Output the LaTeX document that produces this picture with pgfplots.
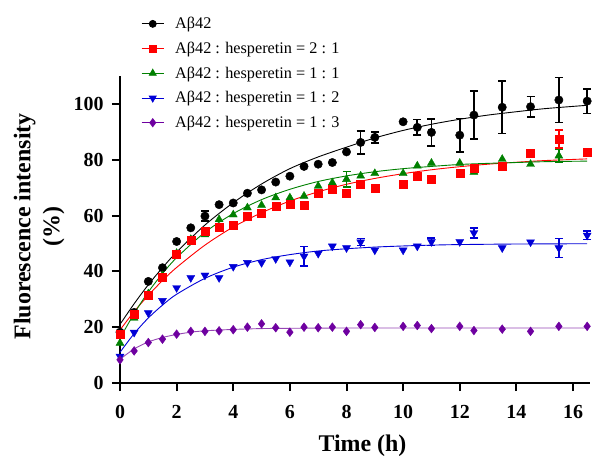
\documentclass[border=0pt]{standalone}
\usepackage{fontspec}
\setmainfont{Liberation Serif}
\usepackage{pgfplots}
\pgfplotsset{compat=1.18}
\definecolor{cA}{RGB}{0,0,0}
\definecolor{cB}{RGB}{255,0,0}
\definecolor{cC}{RGB}{0,128,0}
\definecolor{cD}{RGB}{0,0,215}
\definecolor{cE}{RGB}{110,0,160}
\definecolor{lE}{RGB}{150,70,180}
\begin{document}
\begin{tikzpicture}
\begin{axis}[
  scale only axis, width=470bp, height=307bp,
  xmin=0, xmax=16.6, ymin=0, ymax=110,
  axis lines*=left,
  axis line style={line width=2.2bp},
  xtick={0,2,...,16}, ytick={0,20,...,100},
  xticklabels={0,2,4,6,8,10,12,14,16},
  yticklabels={0,20,40,60,80,100},
  tick align=outside, major tick length=8bp,
  tick style={line width=2bp, black},
  /pgf/number format/assume math mode=true,
  ticklabel style={font=\bfseries\fontsize{20}{23}\selectfont},
  xticklabel style={yshift=-11bp},
  yticklabel style={xshift=-5bp},
  xlabel={Time (h)},
  xlabel style={font=\bfseries\fontsize{24}{29}\selectfont, at={(axis description cs:0.516,-0.2215)}, anchor=base},
  ylabel={Fluorescence intensity\\(\%)},
  ylabel style={font=\bfseries\fontsize{24}{29}\selectfont, align=center, at={(axis description cs:-0.172,0.51)}, anchor=center},
  clip=false,
  legend style={draw=none, fill=none, font=\fontsize{16.3}{19}\selectfont, at={(axis description cs:0.045,1.198)}, anchor=north west, row sep=7.8bp, inner sep=0pt,
    /tikz/every odd column/.style={column sep=9bp}},
  legend cell align=left,
  legend image code/.code={\draw[mark repeat=2,mark phase=2,#1] plot coordinates {(0bp,0bp) (11bp,0bp) (22bp,0bp)};},
]
% legend
\addlegendimage{cA, line width=0.8bp, mark=*, mark size=3.5bp}
\addlegendentry{Aβ42}
\addlegendimage{cB, line width=0.8bp, mark=square*, mark size=3.5bp}
\addlegendentry{Aβ42 : hesperetin = 2 : 1}
\addlegendimage{cC, line width=0.8bp, mark=triangle*, mark size=4bp}
\addlegendentry{Aβ42 : hesperetin = 1 : 1}
\addlegendimage{cD, line width=0.8bp, mark=triangle*, mark size=4bp, mark options={rotate=180}}
\addlegendentry{Aβ42 : hesperetin = 1 : 2}
\addlegendimage{cE, line width=0.8bp, mark=diamond*, mark size=4bp}
\addlegendentry{Aβ42 : hesperetin = 1 : 3}

% fitted curves
\addplot[forget plot, cA, line width=0.9bp, smooth] coordinates {(0,21) (0.5,28.4) (1,35.2) (1.5,41.3) (2,46.9) (3,56.6) (4,64.6) (5,71.3) (6,76.8) (7,81.0) (8,84.5) (9,87.8) (10,90.5) (11,92.7) (12,94.5) (13,96.0) (14,97.2) (15,98.3) (16.5,99.5)};
\addplot[forget plot, cB, line width=0.9bp, smooth] coordinates {(0,19) (0.5,25.6) (1,31.4) (1.5,36.7) (2,41.4) (3,49.4) (4,55.9) (5,61.0) (6,65.2) (7,68.5) (8,71.2) (9,73.3) (10,75.0) (11,76.4) (12,77.5) (13,78.4) (14,79.1) (15,79.7) (16.5,80.3)};
\addplot[forget plot, cC, line width=0.9bp, smooth] coordinates {(0,16) (0.5,24.9) (1,32.6) (1.5,39.2) (2,44.9) (3,54.0) (4,60.7) (5,65.7) (6,69.4) (7,72.2) (8,74.2) (9,75.7) (10,76.8) (11,77.6) (12,78.3) (13,78.7) (14,79.0) (15,79.3) (16.5,79.5)};
\addplot[forget plot, cD, line width=0.9bp, smooth] coordinates {(0,11) (0.5,17.7) (1,23.3) (1.5,27.9) (2,31.8) (3,37.5) (4,41.5) (5,44.2) (6,46.0) (7,47.3) (8,48.1) (9,48.7) (10,49.1) (11,49.4) (12,49.6) (14,49.8) (16.5,49.9)};
\addplot[forget plot, lE, line width=0.9bp, smooth] coordinates {(0,8.5) (0.5,12.2) (1,14.7) (1.5,16.3) (2,17.4) (2.5,18.2) (3,18.7) (4,19.2) (5,19.5) (6,19.6) (8,19.7) (12,19.7) (16.5,19.7)};

% error bars
\addplot[forget plot, only marks, mark=none, error bars/.cd, y dir=both, y explicit,
  error bar style={line width=1.6bp, cA}, error mark options={rotate=90, mark size=4bp, line width=1.6bp, cA}]
  coordinates {(3,59.8) +- (0,1.8) (8.5,86.2) +- (0,4.2) (9,88.0) +- (0,2.0) (10.5,91.6) +- (0,2.8) (11,89.8) +- (0,4.9) (12,88.8) +- (0,6.0) (12.5,96.0) +- (0,8.6) (13.5,98.8) +- (0,9.4) (14.5,99.0) +- (0,3.6) (15.5,101.4) +- (0,8.0) (16.5,101.0) +- (0,4.4)};
\addplot[forget plot, only marks, mark=none, error bars/.cd, y dir=both, y explicit,
  error bar style={line width=1.6bp, cB}, error mark options={rotate=90, mark size=4bp, line width=1.6bp, cB}]
  coordinates {(15.5,87.4) +- (0,3.3) (16.5,82.8) +- (0,1.2)};
\addplot[forget plot, only marks, mark=none, error bars/.cd, y dir=both, y explicit,
  error bar style={line width=1.6bp, cC}, error mark options={rotate=90, mark size=4bp, line width=1.6bp, cC}]
  coordinates {(8,73.0) +- (0,2.8) (15.5,81.4) +- (0,2.2)};
\addplot[forget plot, only marks, mark=none, error bars/.cd, y dir=both, y explicit,
  error bar style={line width=1.6bp, cD}, error mark options={rotate=90, mark size=4bp, line width=1.6bp, cD}]
  coordinates {(6.5,45.4) +- (0,3.5) (8.5,50.5) +- (0,1.3) (11,50.6) +- (0,1.3) (12.5,53.8) +- (0,1.8) (15.5,48.4) +- (0,3.4) (16.5,52.9) +- (0,1.5)};

% data points
\addplot[forget plot, only marks, mark=*, mark size=4.2bp, cA] coordinates {
(0,18.2) (0.5,25.3) (1,36.4) (1.5,41.3) (2,50.7) (2.5,55.6) (3,59.8) (3.5,63.9) (4,64.5) (4.5,68.0) (5,69.2) (5.5,72.0) (6,74.1) (6.5,77.6) (7,78.4) (7.5,79.0) (8,82.8) (8.5,86.2) (9,88.0) (10,93.6) (10.5,91.6) (11,89.8) (12,88.8) (12.5,96.0) (13.5,98.8) (14.5,99.0) (15.5,101.4) (16.5,101.0)};
\addplot[forget plot, only marks, mark=triangle*, mark size=4.6bp, cC] coordinates {
(0,14.3) (0.5,23.3) (1,32.0) (1.5,38.5) (2,46.5) (2.5,51.5) (3,53.2) (3.5,58.6) (4,60.3) (4.5,62.8) (5,63.7) (5.5,66.4) (6,66.4) (6.5,67.0) (7,70.6) (7.5,71.8) (8,73.0) (8.5,74.2) (9,75.1) (10,75.1) (10.5,77.8) (11,78.8) (12,78.8) (12.5,75.6) (13.5,80.2) (14.5,78.4) (15.5,81.4) (16.5,82.0)};
\addplot[forget plot, only marks, mark=square*, mark size=4bp, cB] coordinates {
(0,17.6) (0.5,24.8) (1,31.4) (1.5,38.0) (2,46.3) (2.5,51.1) (3,54.4) (3.5,55.9) (4,56.7) (4.5,59.8) (5,61.0) (5.5,63.2) (6,64.1) (6.5,63.7) (7,67.9) (7.5,69.4) (8,67.9) (8.5,71.2) (9,69.7) (10,71.2) (10.5,74.2) (11,73.0) (12,75.2) (12.5,77.0) (13.5,77.6) (14.5,82.3) (15.5,87.4) (16.5,82.8)};
\addplot[forget plot, only marks, mark=triangle*, mark size=4.6bp, mark options={rotate=180}, cD] coordinates {
(0,9.5) (0.5,18.1) (1,25.1) (1.5,29.5) (2,34.1) (2.5,37.7) (3,38.6) (3.5,37.7) (4,41.7) (4.5,43.1) (5,43.1) (5.5,44.5) (6,43.3) (6.5,45.4) (7,46.4) (7.5,49.0) (8,48.4) (8.5,50.5) (9,47.6) (10,47.6) (10.5,49.0) (11,50.6) (12,50.6) (12.5,53.8) (13.5,48.4) (14.5,50.5) (15.5,48.4) (16.5,52.9)};
\addplot[forget plot, only marks, mark=diamond*, mark size=4.4bp, cE] coordinates {
(0,8.3) (0.5,11.5) (1,14.5) (1.5,15.7) (2,17.5) (2.5,18.5) (3,18.5) (3.5,18.7) (4,19.1) (4.5,20.0) (5,21.2) (5.5,19.8) (6,18.2) (6.5,20.0) (7,19.8) (7.5,20.0) (8,18.5) (8.5,20.9) (9,19.9) (10,20.3) (10.5,20.6) (11,19.5) (12,20.3) (12.5,18.8) (13.5,19.3) (14.5,18.5) (15.5,20.3) (16.5,20.3)};
\end{axis}
\pgfresetboundingbox
\path[use as bounding box] ([shift={(-120bp,-73bp)}]current axis.south west) rectangle ([shift={(478bp,383bp)}]current axis.south west);
\end{tikzpicture}
\end{document}
